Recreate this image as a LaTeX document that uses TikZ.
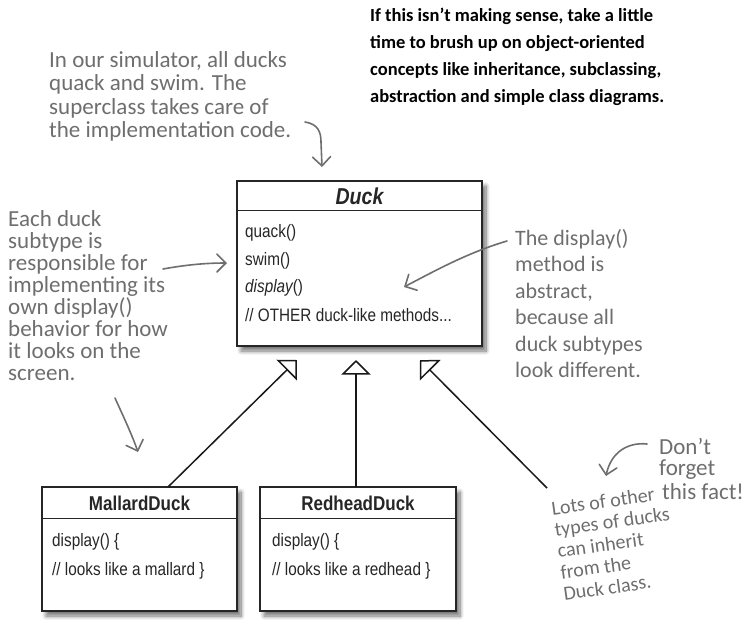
\documentclass[tikz,border=0pt]{standalone}
\usepackage{fontspec}
\setmainfont{Carlito}
\newfontfamily\umlfont[FakeStretch=0.85]{Liberation Sans}
\usetikzlibrary{arrows.meta,shadows.blur,calc}
\definecolor{notegray}{HTML}{6E6E6E}
\definecolor{boxline}{HTML}{262626}
\begin{document}
\begin{tikzpicture}[x=1pt,y=-1pt,
  umlbox/.style={draw=boxline, line width=1.3pt, fill=white, inner sep=0pt,
    blur shadow={shadow xshift=4pt, shadow yshift=-5pt, shadow blur radius=4pt, shadow blur steps=10, shadow opacity=55}},
  umltitle/.style={inner sep=0pt, font=\umlfont\bfseries\fontsize{20}{22}\selectfont, text=boxline},
  umltext/.style={inner sep=0pt, anchor=west, font=\umlfont\fontsize{18}{20}\selectfont, text=boxline},
  sepline/.style={draw=boxline, line width=1.1pt},
  inherit/.style={draw=black!90, line width=1.5pt, -{Triangle[open, length=14.5pt, width=29pt, line width=1.5pt]}},
  note/.style={text=notegray, align=left, inner sep=0pt, font=\fontsize{23}{22}\selectfont},
  notearrow/.style={draw=notegray, line width=1.6pt, line cap=round, -{Straight Barb[length=9pt, width=18pt, line cap=round]}}
]
\useasboundingbox (0,0) rectangle (750,633);

% ---- Duck class ----
\node[umlbox, minimum width=245pt, minimum height=165pt] (duck) at (359.5,263.5) {};
\draw[sepline] ([yshift=-30pt]duck.north west) -- ([yshift=-30pt]duck.north east);
\node[umltitle, font=\umlfont\bfseries\itshape\fontsize{23}{25}\selectfont] (duckname) at (359.5,196) {Duck};
\node[umltext] (m1) at (245,233) {quack()};
\node[umltext] (m2) at (245,261) {swim()};
\node[umltext] (m3) at (245,288) {\itshape display\upshape()};
\node[umltext] (m4) at (245,315) {// OTHER duck-like methods...};

% ---- MallardDuck ----
\node[umlbox, minimum width=195pt, minimum height=124pt] (mallard) at (139.5,549) {};
\draw[sepline] ([yshift=-32pt]mallard.north west) -- ([yshift=-32pt]mallard.north east);
\node[umltitle] (mallardname) at (139.5,503) {MallardDuck};
\node[umltext] (ma1) at (52,542) {display() \{};
\node[umltext] (ma2) at (52,571) {// looks like a mallard \}};

% ---- RedheadDuck ----
\node[umlbox, minimum width=196pt, minimum height=124pt] (redhead) at (358,549) {};
\draw[sepline] ([yshift=-32pt]redhead.north west) -- ([yshift=-32pt]redhead.north east);
\node[umltitle] (redheadname) at (358,503) {RedheadDuck};
\node[umltext] (re1) at (272,542) {display() \{};
\node[umltext] (re2) at (272,571) {// looks like a redhead \}};

% ---- inheritance connectors ----
\coordinate (tipL) at (297,360);
\coordinate (tipM) at (356,360);
\coordinate (tipR) at (420,360);
\coordinate (mallardTop) at (168,487);
\coordinate (redheadTop) at (356,487);
\coordinate (otherEnd) at (547,488);
\draw[inherit] (mallardTop) -- (tipL);
\draw[inherit] (redheadTop) -- (tipM);
\draw[inherit] (otherEnd) -- (tipR);

% ---- notes ----
\node[anchor=north west, inner sep=0pt, align=left, font=\bfseries\fontsize{18.5}{27}\selectfont] (noteTR) at (370,8)
  {If this isn’t making sense, take a little\\time to brush up on object-oriented\\concepts like inheritance, subclassing,\\abstraction and simple class diagrams.};

\node[note, anchor=north west, font=\fontsize{23}{23.5}\selectfont] (noteTL) at (49,51)
  {In our simulator, all ducks\\quack and swim. The\\superclass takes care of\\the implementation code.};

\node[note, anchor=north west] (noteL) at (8,210)
  {Each duck\\subtype is\\responsible for\\implementing its\\own display()\\behavior for how\\it looks on the\\screen.};

\node[note, anchor=north west, font=\fontsize{22}{26.5}\selectfont] (noteR) at (515,229)
  {The display()\\method is\\abstract,\\because all\\duck subtypes\\look different.};

\node[note, rotate=8, font=\fontsize{20}{21.5}\selectfont] (noteLots) at (615,543)
  {Lots of other\\types of ducks\\can inherit\\from the\\Duck class.};

\node[note, anchor=west] (dont) at (659,446) {Don’t};
\node[note, anchor=west] (forget) at (659,470) {forget};
\node[note, anchor=west] (fact) at (662,492) {this fact!};

% ---- note arrows ----
\coordinate (a1s) at (305,122);
\coordinate (a1e) at (322,167);
\draw[notearrow] (a1s) .. controls (318,124) and (321,132) .. (321,142) -- (a1e);

\coordinate (a2s) at (163,269);
\coordinate (a2e) at (227,263);
\draw[notearrow] (a2s) .. controls (185,265) and (205,263) .. (a2e);

\coordinate (a3s) at (115,398);
\coordinate (a3e) at (138,452);
\draw[notearrow] (a3s) .. controls (125,420) and (132,435) .. (a3e);

\coordinate (a4s) at (507,241);
\coordinate (a4e) at (404,287);
\draw[notearrow] (a4s) .. controls (470,252) and (440,268) .. (a4e);

\coordinate (a5s) at (647,444);
\coordinate (a5e) at (606,476);
\draw[notearrow] (a5s) .. controls (628,442) and (611,452) .. (a5e);
\end{tikzpicture}
\end{document}
